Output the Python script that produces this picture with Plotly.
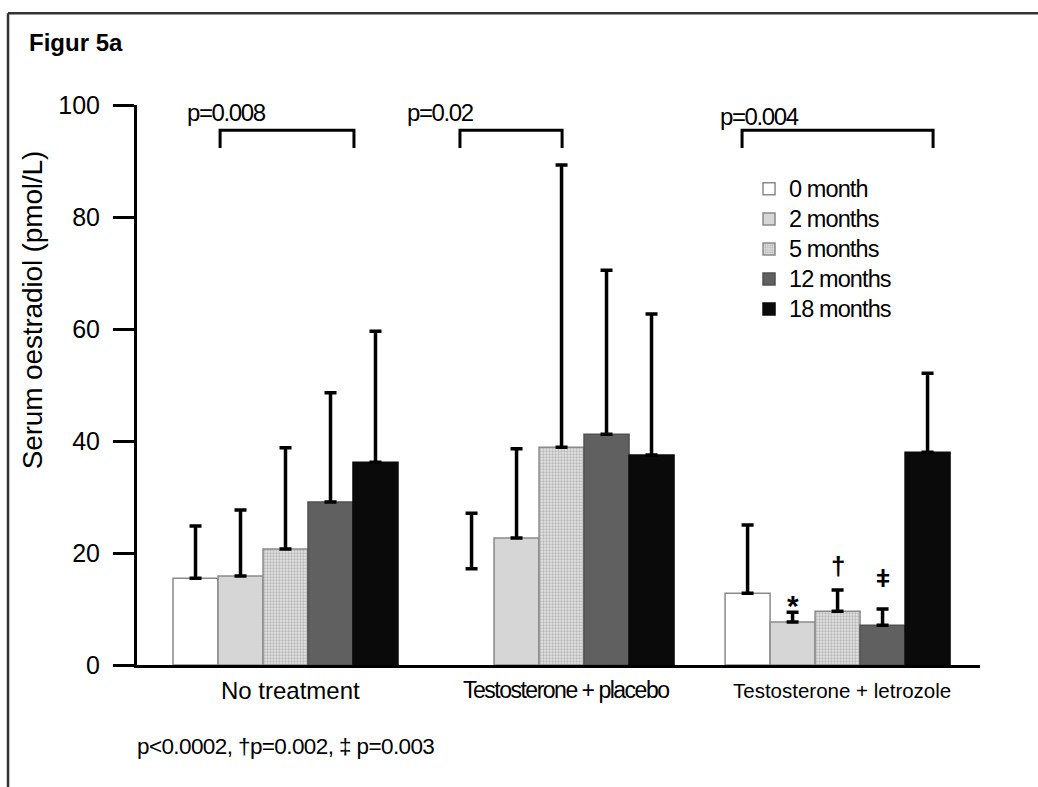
import plotly.graph_objects as go

# ---------------- data ----------------
groups = ["No treatment", "Testosterone + placebo", "Testosterone + letrozole"]
series = ["0 month", "2 months", "5 months", "12 months", "18 months"]

# mean values per series, order = groups
mean_0 = [15.5, 17.2, 12.8]
mean_2 = [15.9, 22.7, 7.7]
mean_5 = [20.7, 38.9, 9.6]
mean_12 = [29.1, 41.2, 7.1]
mean_18 = [36.2, 37.5, 38.0]

# top of the (upper) error bar per series
top_0 = [24.8, 27.1, 25.0]
top_2 = [27.7, 38.6, 9.4]
top_5 = [38.8, 89.3, 13.4]
top_12 = [48.6, 70.5, 10.0]
top_18 = [59.6, 62.7, 52.1]

means = [mean_0, mean_2, mean_5, mean_12, mean_18]
tops = [top_0, top_2, top_5, top_12, top_18]

y_ticks = [0, 20, 40, 60, 80, 100]

# significance brackets: (label, x_start, x_end) in category units
brackets = [("p=0.008", -0.237, 0.248), ("p=0.02", 0.632, 1.002), ("p=0.004", 1.654, 2.346)]
# markers above letrozole bars (series index, symbol, y position, size)
markers = [(1, "*", 10.7, 30), (2, "†", 17.6, 26), (3, "ǂ", 15.5, 24)]
footnote = "p<0.0002, †p=0.002, ‡ p=0.003"

# ---------------- style ----------------
FONT = "Liberation Sans, Arial, sans-serif"
fills = ["#ffffff", "#d6d6d6", "#dcdcdc", "#606060", "#0a0a0a"]
edges = ["#8a8a8a", "#8a8a8a", "#8a8a8a", "#505050", "#0a0a0a"]


def condensed(text, size, spacing):
    return f'<span style="font-size:{size}px;letter-spacing:{spacing}px">{text}</span>'


fig = go.Figure()
for i, name in enumerate(series):
    err = [t - m for t, m in zip(tops[i], means[i])]
    line_colors = [edges[i]] * 3
    if i == 0:
        line_colors[1] = "#ffffff"  # placebo baseline bar drawn without outline
    marker = dict(color=fills[i], line=dict(color=line_colors, width=1.5))
    if i == 2:
        marker["pattern"] = dict(shape=".", bgcolor="#e2e2e2", fgcolor="#8a8a8a",
                                 size=3, solidity=0.45, fillmode="overlay")
    fig.add_trace(go.Bar(
        x=groups, y=means[i], name=condensed(name, 23.5, -0.9), marker=marker,
        error_y=dict(type="data", symmetric=False, array=err,
                     arrayminus=[0, 0, 0], color="black", thickness=3.5, width=6),
    ))

fig.update_layout(
    width=1038, height=787,
    margin=dict(l=137, r=58, t=105, b=122),
    paper_bgcolor="white", plot_bgcolor="white",
    barmode="group", bargap=0.185, bargroupgap=0,
    font=dict(family=FONT, size=22, color="black"),
    showlegend=True,
    legend=dict(x=0.726, y=0.886, xanchor="left", yanchor="top",
                font=dict(family=FONT, size=20.8), bgcolor="rgba(0,0,0,0)",
                tracegroupgap=0, itemclick=False),
)
fig.update_xaxes(range=[-0.538, 2.516], showticklabels=False, ticks="",
                 showline=True, linecolor="black", linewidth=2.5,
                 showgrid=False, zeroline=False, fixedrange=True)
fig.update_yaxes(range=[0, 100], tickvals=y_ticks, ticks="outside", ticklen=21,
                 tickwidth=3, tickcolor="black", showline=True, linecolor="black",
                 linewidth=3, showgrid=False, zeroline=False,
                 tickfont=dict(family=FONT, size=25), ticklabelstandoff=8,
                 fixedrange=True)

ann = []
# category labels
cat_text = [condensed(groups[0], 24, 0), condensed(groups[1], 23, -1.5), groups[2]]
cat_fonts = [dict(family=FONT, size=24), dict(family=FONT, size=23), dict(family=FONT, size=20.5)]
cat_shift = [5, 4, 4]
for g, t, f, s in zip(groups, cat_text, cat_fonts, cat_shift):
    ann.append(dict(x=g, xref="x", y=-0.045, yref="paper", text=t, showarrow=False,
                    font=f, xanchor="center", yanchor="middle", xshift=s))
# brackets and p-values
shapes = []
for label, x0, x1 in brackets:
    shapes.append(dict(type="path", xref="x", yref="y",
                       path=f"M {x0},92.3 L {x0},95.5 L {x1},95.5 L {x1},92.3",
                       line=dict(color="black", width=3)))
text_pos = [(-0.364, 98.75), (0.433, 98.6), (1.567, 97.9)]
for (label, _, _), (tx, ty) in zip(brackets, text_pos):
    ann.append(dict(x=tx, xref="x", y=ty, yref="y", text=condensed(label, 24, -1.4),
                    showarrow=False, font=dict(family=FONT, size=24),
                    xanchor="left", yanchor="middle"))
# significance markers above letrozole bars
group_w = 1 - 0.185
bar_w = group_w / len(series)
for si, sym, my, fs in markers:
    xc = 2 - group_w / 2 + bar_w * (si + 0.5)
    ann.append(dict(x=xc, xref="x", y=my, yref="y", text=f"<b>{sym}</b>",
                    showarrow=False, font=dict(family=FONT, size=fs),
                    xanchor="center", yanchor="middle"))
# title, axis title, footnote
ann.append(dict(x=-0.1305, xref="paper", y=1.111, yref="paper", text="<b>Figur 5a</b>",
                showarrow=False, font=dict(family=FONT, size=24), xanchor="left", yanchor="middle"))
ann.append(dict(x=-0.123, xref="paper", y=0.634, yref="paper",
                text=condensed("Serum oestradiol (pmol/L)", 28, -0.15),
                textangle=-90, showarrow=False, font=dict(family=FONT, size=28),
                xanchor="center", yanchor="middle"))
ann.append(dict(x=-0.002, xref="paper", y=-0.146, yref="paper",
                text=condensed(footnote, 22.5, -0.6),
                showarrow=False, font=dict(family=FONT, size=22.5), xanchor="left", yanchor="middle"))

# outer frame (top and left edges)
shapes.append(dict(type="line", xref="paper", yref="paper", x0=-0.153, x1=1.08, y0=1.164, y1=1.164,
                   line=dict(color="#333333", width=2.5)))
shapes.append(dict(type="line", xref="paper", yref="paper", x0=-0.153, x1=-0.153, y0=1.164, y1=-0.23,
                   line=dict(color="#333333", width=2.5)))

fig.update_layout(annotations=ann, shapes=shapes)
fig.write_html("out.html")
